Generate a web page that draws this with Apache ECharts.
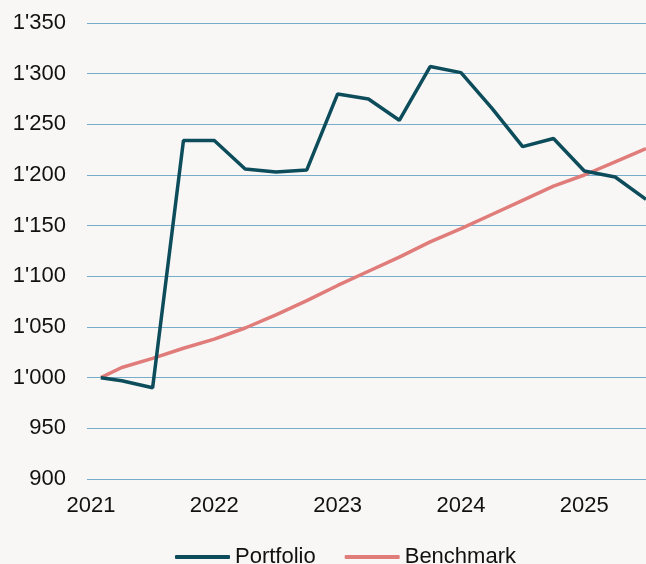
<!DOCTYPE html>
<html>
<head>
<meta charset="utf-8">
<script src="https://cdn.jsdelivr.net/npm/echarts@6/dist/echarts.min.js"></script>
<style>
  html, body { margin: 0; padding: 0; background: #f8f7f5; }
  #chart { width: 646px; height: 564px; }
</style>
</head>
<body>
<div id="chart"></div>
<script>
'use strict';
// dates as fractional years, quarterly after the start
var dates = [2021.08, 2021.25, 2021.5, 2021.75, 2022, 2022.25, 2022.5, 2022.75,
             2023, 2023.25, 2023.5, 2023.75, 2024, 2024.25, 2024.5, 2024.75,
             2025, 2025.25, 2025.5];
var portfolio = [1000, 997, 990, 1234, 1234, 1206, 1203, 1205,
                 1280, 1275, 1254, 1307, 1301, 1266, 1228, 1236,
                 1204, 1198, 1176];
var benchmark = [1000, 1010, 1019, 1029, 1038, 1049, 1062, 1076,
                 1091, 1105, 1119, 1134, 1147, 1161, 1175, 1189,
                 1200, 1213, 1226];
var yearTicks = [2021, 2022, 2023, 2024, 2025];

function pairs(xs, ys) {
  return xs.map(function (x, i) { return [x, ys[i]]; });
}

function fmtThousands(v) {
  var s = String(v);
  return s.length > 3 ? s.slice(0, s.length - 3) + "'" + s.slice(-3) : s;
}

var myChart = echarts.init(document.getElementById('chart'));
var font = 'Liberation Sans, Arial, sans-serif';

var option = {
  backgroundColor: '#f8f7f5',
  animation: false,
  grid: { left: 87, right: -3, top: 23, bottom: 85, containLabel: false },
  legend: {
    left: 170,
    top: 541,
    itemWidth: 55,
    itemHeight: 4,
    itemGap: 29,
    icon: 'roundRect',
    textStyle: { fontFamily: font, fontSize: 22, color: '#111' },
    data: ['Portfolio', 'Benchmark']
  },
  xAxis: {
    type: 'value',
    min: 2020.968,
    max: 2025.5,
    axisLine: { show: false },
    axisTick: { show: false },
    splitLine: { show: false },
    axisLabel: {
      customValues: yearTicks,
      margin: 16,
      fontFamily: font,
      fontSize: 22,
      color: '#111',
      formatter: function (v) { return String(Math.round(v)); }
    }
  },
  yAxis: {
    type: 'value',
    min: 900,
    max: 1350,
    interval: 50,
    axisLine: { show: false },
    axisTick: { show: false },
    splitLine: { lineStyle: { color: '#76adca', width: 1.2 } },
    axisLabel: {
      margin: 21,
      fontFamily: font,
      fontSize: 22,
      color: '#111',
      formatter: fmtThousands
    }
  },
  series: [
    {
      name: 'Portfolio',
      type: 'line',
      data: pairs(dates, portfolio),
      showSymbol: false,
      symbol: 'none',
      color: '#0d4d5b',
      lineStyle: { width: 3.5, color: '#0d4d5b' },
      z: 3
    },
    {
      name: 'Benchmark',
      type: 'line',
      data: pairs(dates, benchmark),
      showSymbol: false,
      symbol: 'none',
      color: '#e07c7a',
      lineStyle: { width: 3.5, color: '#e07c7a' },
      z: 2
    }
  ]
};

myChart.setOption(option);
</script>
</body>
</html>
